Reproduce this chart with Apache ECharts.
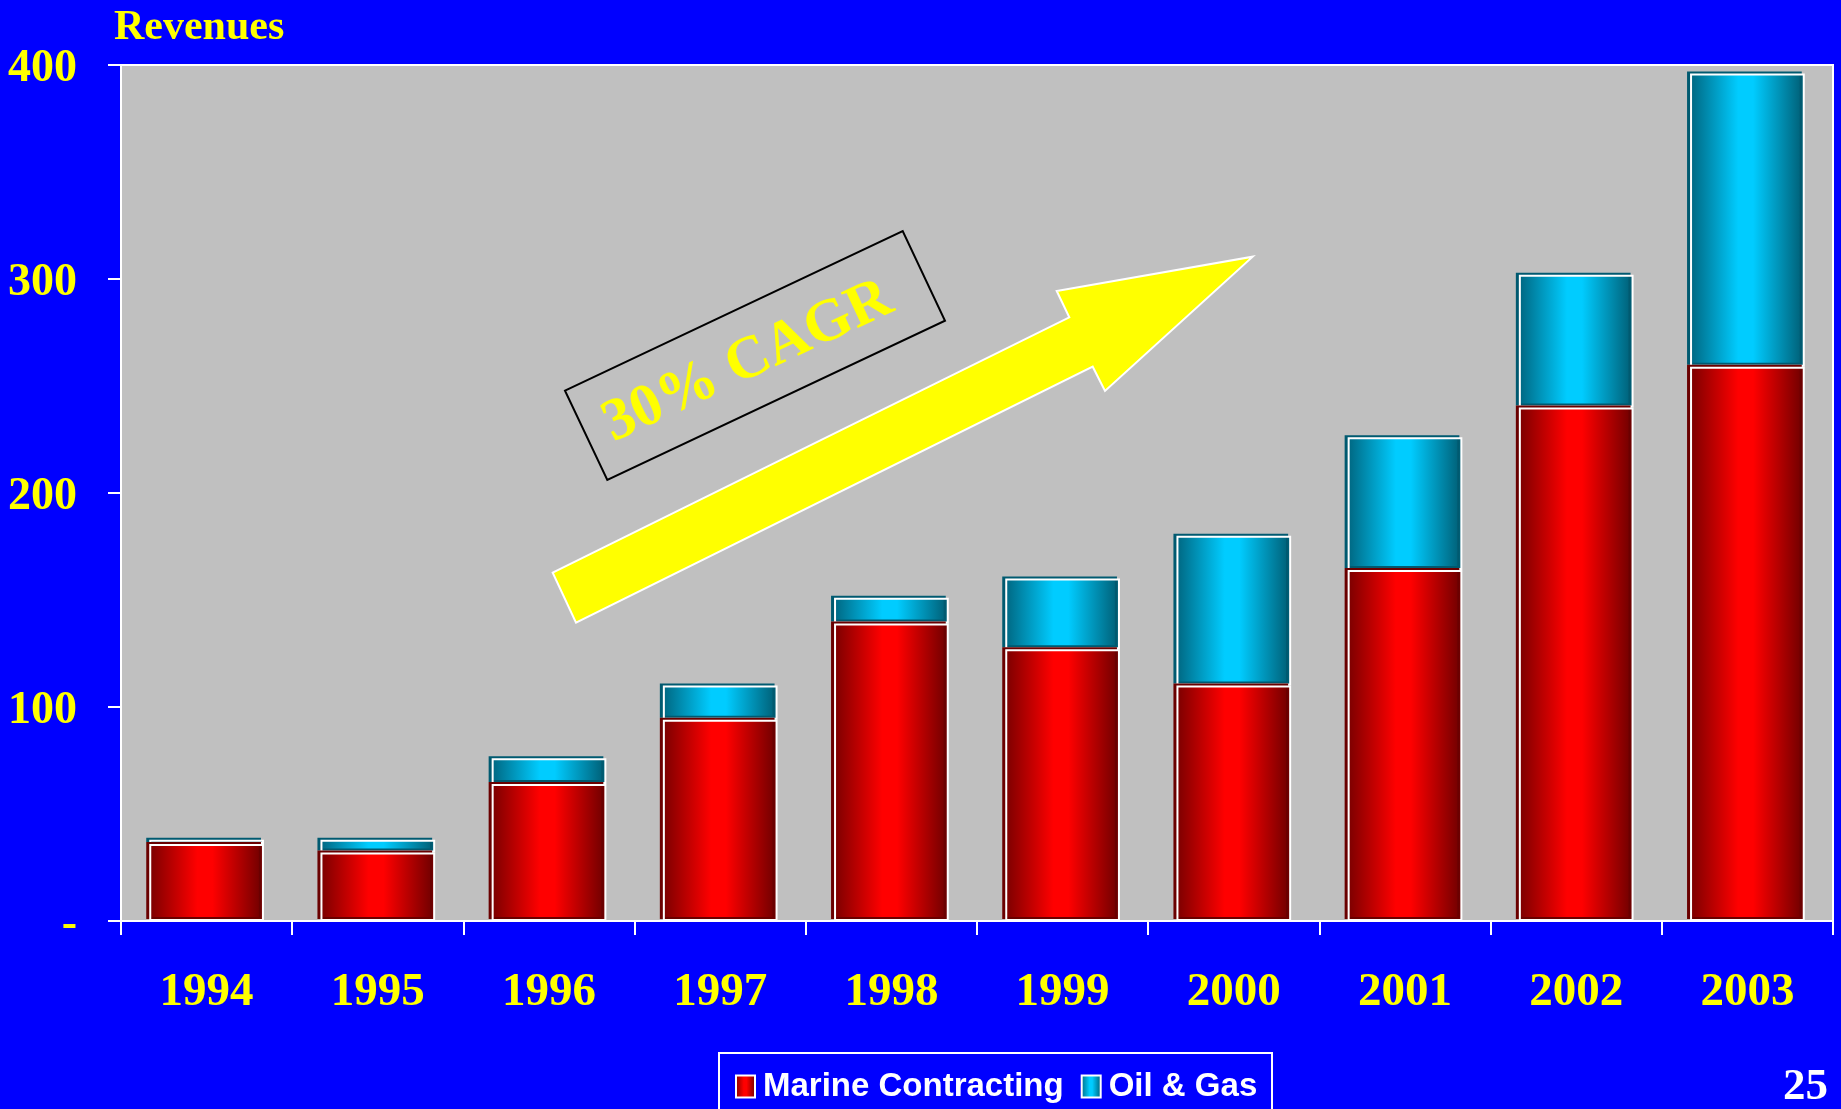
<!DOCTYPE html>
<html>
<head>
<meta charset="utf-8">
<script src="https://cdn.jsdelivr.net/npm/echarts@6/dist/echarts.min.js"></script>
<style>
  html, body { margin: 0; padding: 0; background: #0000ff; }
  #chart { width: 1841px; height: 1109px; }
</style>
</head>
<body>
<div id="chart"></div>
<script>
// Revenues by year, split into the two business segments (millions)
const years = ['1994', '1995', '1996', '1997', '1998', '1999', '2000', '2001', '2002', '2003'];
const marineContracting = [36, 32, 64, 94, 139, 127, 110, 164, 240, 259];
const oilAndGas = [2, 6, 12, 16, 12, 33, 70, 62, 62, 137];
const yTicks = [0, 100, 200, 300, 400];

const SERIF = '"Liberation Serif", "Times New Roman", serif';
const SANS = '"Liberation Sans", Arial, sans-serif';

function barGradient(edgeL, mid, edgeR) {
  return new echarts.graphic.LinearGradient(0, 0, 1, 0, [
    { offset: 0, color: edgeL },
    { offset: 0.42, color: mid },
    { offset: 0.55, color: mid },
    { offset: 1, color: edgeR }
  ]);
}

const chart = echarts.init(document.getElementById('chart'), null, { renderer: 'canvas' });

chart.setOption({
  backgroundColor: '#0000ff',
  animation: false,
  grid: {
    left: 121, right: 8, top: 65, bottom: 188,
    show: true,
    backgroundColor: '#c0c0c0',
    borderColor: '#ffffff',
    borderWidth: 2
  },
  legend: {
    left: 730,
    top: 1065,
    itemWidth: 19,
    itemHeight: 22,
    itemGap: 17,
    icon: 'rect',
    textStyle: {
      color: '#ffffff',
      fontFamily: SANS,
      fontWeight: 'bold',
      fontSize: 33,
      padding: [0, 0, 0, 3]
    },
    data: ['Marine Contracting', 'Oil & Gas']
  },
  xAxis: {
    type: 'category',
    data: years,
    boundaryGap: true,
    axisLine: { lineStyle: { color: '#ffffff', width: 2 } },
    axisTick: { show: true, length: 14, lineStyle: { color: '#ffffff', width: 2 } },
    axisLabel: {
      color: '#ffff00',
      fontFamily: SERIF,
      fontWeight: 'bold',
      fontSize: 47,
      lineHeight: 47,
      margin: 48
    }
  },
  yAxis: {
    type: 'value',
    min: yTicks[0],
    max: yTicks[yTicks.length - 1],
    interval: yTicks[1] - yTicks[0],
    splitLine: { show: false },
    axisLine: { show: true, lineStyle: { color: '#ffffff', width: 2 } },
    axisTick: { show: true, length: 13, lineStyle: { color: '#ffffff', width: 2 } },
    axisLabel: {
      color: '#ffff00',
      fontFamily: SERIF,
      fontWeight: 'bold',
      fontSize: 46,
      margin: 44,
      verticalAlign: 'top',
      lineHeight: 8,
      formatter: v => (v === 0 ? '-' : String(v))
    }
  },
  series: [
    {
      name: 'Marine Contracting',
      type: 'bar',
      stack: 'rev',
      z: 3,
      barWidth: '67%',
      data: marineContracting,
      itemStyle: {
        color: barGradient('#7a0000', '#ff0000', '#6a0000'),
        borderColor: '#ffffff',
        borderWidth: 2,
        shadowColor: '#6a0000',
        shadowOffsetX: -3,
        shadowOffsetY: -2,
        shadowBlur: 0
      }
    },
    {
      name: 'Oil & Gas',
      type: 'bar',
      stack: 'rev',
      z: 2,
      barWidth: '67%',
      data: oilAndGas,
      itemStyle: {
        color: barGradient('#006680', '#00ccff', '#005a70'),
        borderColor: '#ffffff',
        borderWidth: 2,
        shadowColor: '#005a70',
        shadowOffsetX: -3,
        shadowOffsetY: -2,
        shadowBlur: 0
      }
    }
  ],
  graphic: [
    {
      type: 'text', left: 114, top: 7, z: 50,
      style: { text: 'Revenues', fill: '#ffff00', font: 'bold 42px ' + SERIF }
    },
    {
      // growth arrow
      type: 'polygon', z: 50,
      shape: {
        points: [
          [552.7, 572.7], [1069.3, 317.3], [1056.7, 291], [1252.7, 256.7],
          [1105, 391], [1092.7, 366.7], [576, 622.7]
        ]
      },
      style: { fill: '#ffff00', stroke: '#ffffff', lineWidth: 2 }
    },
    {
      // tilted frame round the growth note
      type: 'polygon', z: 50,
      shape: { points: [[565, 390.7], [902.7, 231], [945, 320.7], [607.3, 480]] },
      style: { fill: 'transparent', stroke: '#000000', lineWidth: 2 }
    },
    {
      type: 'text', z: 51,
      x: 748, y: 362,
      rotation: 25 * Math.PI / 180,
      style: {
        text: '30% CAGR', fill: '#ffff00',
        font: 'bold 60px ' + SERIF,
        align: 'center', verticalAlign: 'middle'
      }
    },
    {
      // legend frame
      type: 'rect', z: -1,
      shape: { x: 719, y: 1053, width: 553, height: 90 },
      style: { fill: '#0000ff', stroke: '#ffffff', lineWidth: 2 }
    },
    {
      type: 'text', z: 50,
      x: 1828, y: 1087,
      style: {
        text: '25', fill: '#ffffff', font: 'bold 45px ' + SERIF,
        align: 'right', verticalAlign: 'middle'
      }
    }
  ]
});
</script>
</body>
</html>
